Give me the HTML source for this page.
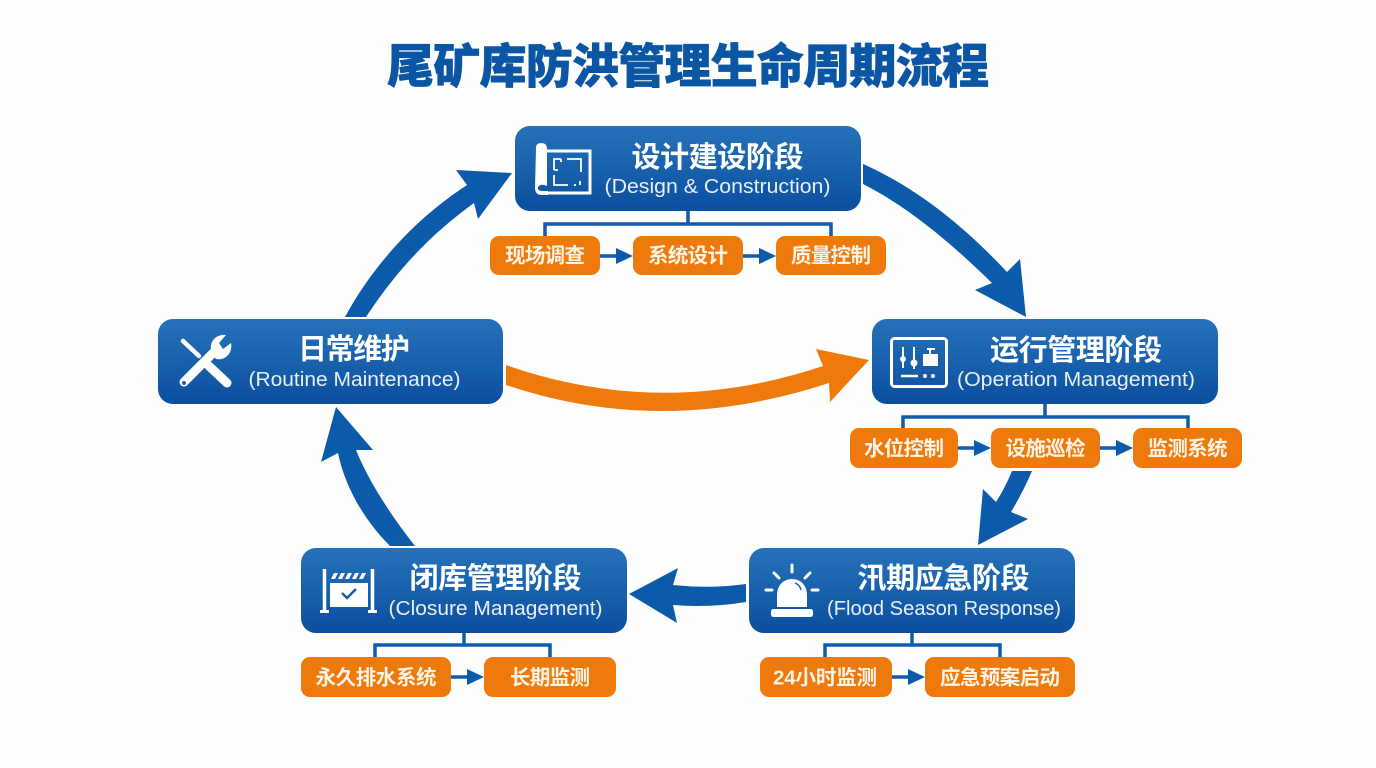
<!DOCTYPE html>
<html lang="zh">
<head>
<meta charset="utf-8">
<title>尾矿库防洪管理生命周期流程</title>
<style>
html,body{margin:0;padding:0;background:#fefefe;width:1376px;height:768px;overflow:hidden}
svg{display:block}
.t{font-family:"Liberation Sans","Noto Sans CJK SC",sans-serif;font-weight:900;font-size:47px;fill:#0b56a4;stroke:#0b56a4;stroke-width:0.7px}
.h{font-family:"Liberation Sans","Noto Sans CJK SC",sans-serif;font-weight:700;font-size:29px;fill:#fff;text-anchor:middle}
.e{font-family:"Liberation Sans","Noto Sans CJK SC",sans-serif;font-weight:400;font-size:20px;fill:#e8f0f8;text-anchor:middle}
.s{font-family:"Liberation Sans","Noto Sans CJK SC",sans-serif;font-weight:700;font-size:20.5px;fill:#fdf3e6;text-anchor:middle}
.ln{fill:none;stroke:#0e5cab;stroke-width:3.5}
.ar{fill:#0c5bab}
.or{fill:#ee7a0c}
.ic{fill:none;stroke:#fff;stroke-width:3}
.wf{fill:#fff}
</style>
</head>
<body>
<svg width="1376" height="768" viewBox="0 0 1376 768" xmlns="http://www.w3.org/2000/svg">
<defs>
<linearGradient id="g" x1="0" y1="0" x2="0" y2="1">
<stop offset="0" stop-color="#2672ba"/>
<stop offset="1" stop-color="#0b4f9f"/>
</linearGradient>
</defs>
<rect width="1376" height="768" fill="#fefefe"/>

<text class="t" x="387" y="83" textLength="602">尾矿库防洪管理生命周期流程</text>

<!-- Big arrows -->
<path class="ar" d="M345 317 C375 262 418 217 467 185 L456 170 L512 173 L478 219 L474 203 C431 234 397 270 366 317 Z"/>
<path class="ar" d="M863 164 C917 188 965 227 1007 272 L1020 259 L1026 317 L975 290 L992 283 C953 245 910 208 863 184 Z"/>
<path class="or" d="M506 365 Q662 420 823 366 L816 349 L869 360 L830 402 L829 383 Q662 438 506 385 Z"/>
<path class="ar" d="M1012 471 Q1005 488 996 502 L983 489 L978 545 L1028 519 L1011 512 Q1023 492 1032 471 Z"/>
<path class="ar" d="M746 584 Q710 589 673 585 L678 568 L629 594 L677 623 L673 605 Q710 608 746 602 Z"/>
<path class="ar" d="M338 453 C345 487 364 520 390 546 L415 546 C392 517 369 482 356 450 L373 450 L336 407 L321 462 Z"/>

<!-- Connectors: Design -->
<path class="ln" d="M688 211 V224 M545 236 V224 H831 V236"/>
<path class="ln" d="M600 256 H617 M743 256 H760"/>
<path class="ar" d="M616 248 L633 256 L616 264 Z M759 248 L776 256 L759 264 Z"/>
<!-- Connectors: Operation -->
<path class="ln" d="M1045 404 V417 M903 428 V417 H1188 V428"/>
<path class="ln" d="M958 448 H975 M1100 448 H1117"/>
<path class="ar" d="M974 440 L991 448 L974 456 Z M1116 440 L1133 448 L1116 456 Z"/>
<!-- Connectors: Closure -->
<path class="ln" d="M464 633 V645 M375 657 V645 H550 V657"/>
<path class="ln" d="M451 677 H468"/>
<path class="ar" d="M467 669 L484 677 L467 685 Z"/>
<!-- Connectors: Flood -->
<path class="ln" d="M912 633 V645 M825 657 V645 H1000 V657"/>
<path class="ln" d="M892 677 H909"/>
<path class="ar" d="M908 669 L925 677 L908 685 Z"/>

<!-- Main nodes -->
<rect x="515" y="126" width="346" height="85" rx="15" fill="url(#g)"/>
<rect x="872" y="319" width="346" height="85" rx="15" fill="url(#g)"/>
<rect x="158" y="319" width="345" height="85" rx="15" fill="url(#g)"/>
<rect x="301" y="548" width="326" height="85" rx="15" fill="url(#g)"/>
<rect x="749" y="548" width="326" height="85" rx="15" fill="url(#g)"/>

<text class="h" x="717.5" y="167" textLength="172">设计建设阶段</text>
<text class="e" x="717.5" y="193" textLength="226" lengthAdjust="spacingAndGlyphs">(Design &amp; Construction)</text>
<text class="h" x="1076" y="360" textLength="172">运行管理阶段</text>
<text class="e" x="1076" y="386" textLength="238" lengthAdjust="spacingAndGlyphs">(Operation Management)</text>
<text class="h" x="354" y="359" textLength="112">日常维护</text>
<text class="e" x="354.5" y="386" textLength="212" lengthAdjust="spacingAndGlyphs">(Routine Maintenance)</text>
<text class="h" x="495.5" y="588" textLength="172">闭库管理阶段</text>
<text class="e" x="495.5" y="615" textLength="214" lengthAdjust="spacingAndGlyphs">(Closure Management)</text>
<text class="h" x="943.5" y="588" textLength="172">汛期应急阶段</text>
<text class="e" x="944" y="615" textLength="234" lengthAdjust="spacingAndGlyphs">(Flood Season Response)</text>

<!-- Sub boxes -->
<g class="or">
<rect x="490" y="236" width="110" height="39" rx="9"/>
<rect x="633" y="236" width="110" height="39" rx="9"/>
<rect x="776" y="236" width="110" height="39" rx="9"/>
<rect x="850" y="428" width="108" height="40" rx="9"/>
<rect x="991" y="428" width="109" height="40" rx="9"/>
<rect x="1133" y="428" width="109" height="40" rx="9"/>
<rect x="301" y="657" width="150" height="40" rx="9"/>
<rect x="484" y="657" width="132" height="40" rx="9"/>
<rect x="760" y="657" width="132" height="40" rx="9"/>
<rect x="925" y="657" width="150" height="40" rx="9"/>
</g>
<text class="s" x="545" y="262.500" textLength="80">现场调查</text>
<text class="s" x="688" y="262.500" textLength="80">系统设计</text>
<text class="s" x="831" y="262.500" textLength="80">质量控制</text>
<text class="s" x="904" y="455.500" textLength="80">水位控制</text>
<text class="s" x="1045.5" y="455.500" textLength="80">设施巡检</text>
<text class="s" x="1187.5" y="455.500" textLength="80">监测系统</text>
<text class="s" x="376" y="684.500" textLength="121">永久排水系统</text>
<text class="s" x="550" y="684.500" textLength="80">长期监测</text>
<text class="s" x="825" y="684.500" textLength="104">24小时监测</text>
<text class="s" x="1000" y="684.500" textLength="120">应急预案启动</text>

<!-- Icon: blueprint -->
<g>
<path class="ic" d="M547 151 H590 V193 H547"/>
<path class="wf" d="M536 148 Q536 143 541 143 Q547 143 547 149 V186 Q541 183 538 187 Q537 191 543 191 L548 191 V195 H542 Q535 195 535 188 Z"/>
<path fill="none" stroke="#fff" stroke-width="1.8" d="M554 170 V159 H561 M567 159 H581 V172 M554 175 V185 H568 M561 159 V162 M554 170 H558 M574 185 H576 M580 181 V185"/>
</g>

<!-- Icon: control panel -->
<g>
<rect x="891.5" y="338.5" width="55" height="48" rx="3" class="ic" stroke-width="3.5"/>
<path fill="none" stroke="#fff" stroke-width="2" d="M903 347 V368 M914 347 V369 M927 349 H935"/>
<circle class="wf" cx="903" cy="359" r="3"/>
<circle class="wf" cx="914" cy="363" r="3.5"/>
<path class="wf" d="M923 354 H929 V349 H931 V354 H938 V366 H923 Z"/>
<path fill="none" stroke="#fff" stroke-width="2.5" d="M901 376 H918"/>
<circle class="wf" cx="925" cy="376" r="2"/>
<circle class="wf" cx="933" cy="376" r="2"/>
</g>

<!-- Icon: tools -->
<g>
<path fill="none" stroke="#fff" stroke-width="4.5" stroke-linecap="round" d="M183 341 L199 356"/>
<path fill="none" stroke="#fff" stroke-width="9" stroke-linecap="round" d="M209 366 L227 383"/>
<path fill="none" stroke="#fff" stroke-width="9" stroke-linecap="round" d="M184 382 L215 351"/>
<path class="wf" d="M212 354 C208 344 214 334 226 335 L219 343 L223 349 L231 343 C233 352 226 361 216 359 Z"/>
<circle cx="184" cy="383" r="2" fill="#1c62ae"/>
</g>

<!-- Icon: closure barrier -->
<g>
<path fill="none" stroke="#fff" stroke-width="3.5" d="M324.500 569 V611 M372.500 569 V611"/>
<path fill="none" stroke="#fff" stroke-width="3" d="M320 611.500 H329 M368 611.500 H377"/>
<path class="wf" d="M330 583 H368 V607 H330 Z"/>
<path class="wf" d="M331 579 L334 573 H338 L335 579 Z M338 579 L341 573 H345 L342 579 Z M345 579 L348 573 H352 L349 579 Z M352 579 L355 573 H359 L356 579 Z M359 579 L362 573 H366 L363 579 Z"/>
<path fill="none" stroke="#1a5fa9" stroke-width="2.500" d="M342 593 L347 598 L356 589"/>
</g>

<!-- Icon: alarm -->
<g>
<path class="wf" d="M777 607 V595 C777 585 784 579 792 579 C800 579 807 585 807 595 V607 Z"/>
<path fill="none" stroke="#1f68b2" stroke-width="1.500" d="M795 583 Q800 585 801 590"/>
<rect class="wf" x="771" y="609" width="42" height="8" rx="2.500"/>
<path fill="none" stroke="#fff" stroke-width="3" stroke-linecap="round" d="M792 565 V572 M774 573 L779 578 M810 573 L805 578 M766 590 H772 M812 590 H818"/>
</g>
</svg>
</body>
</html>
